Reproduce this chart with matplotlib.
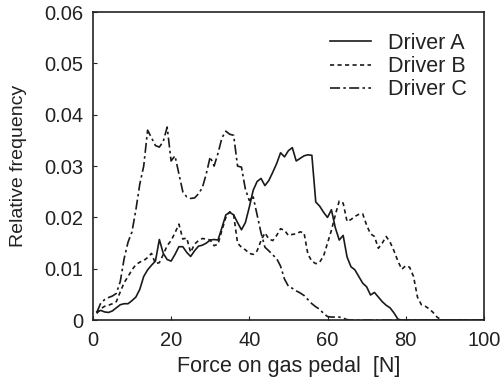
import matplotlib
matplotlib.use("Agg")
import matplotlib.pyplot as plt
import numpy as np

plt.rcParams['font.family'] = ['Liberation Sans', 'DejaVu Sans']

force = list(range(0, 101))

driver_a = [0.0, 0.0016, 0.0019, 0.0016, 0.0015, 0.0018, 0.0024, 0.0030, 0.0032, 0.0032,
            0.0038, 0.0045, 0.0060, 0.0085, 0.0098, 0.0107, 0.0115, 0.0157, 0.0130, 0.0118,
            0.0115, 0.0128, 0.0143, 0.0143, 0.0132, 0.0124, 0.0135, 0.0144, 0.0146, 0.0150,
            0.0156, 0.0157, 0.0156, 0.0180, 0.0205, 0.0210, 0.0205, 0.0190, 0.0176, 0.0190,
            0.0220, 0.0253, 0.0270, 0.0276, 0.0262, 0.0272, 0.0288, 0.0305, 0.0326, 0.0318,
            0.0330, 0.0336, 0.0310, 0.0315, 0.0320, 0.0322, 0.0321, 0.0230, 0.0222, 0.0210,
            0.0200, 0.0215, 0.0180, 0.0156, 0.0165, 0.0123, 0.0104, 0.0098, 0.0085, 0.0072,
            0.0065, 0.0049, 0.0054, 0.0045, 0.0036, 0.0029, 0.0024, 0.0014, 0.0002] + [0.0] * 22

driver_b = [0.0, 0.0013, 0.0022, 0.0027, 0.0029, 0.0032, 0.0036, 0.0055, 0.0073, 0.0085,
            0.0098, 0.0108, 0.0113, 0.0116, 0.0122, 0.0130, 0.0110, 0.0112, 0.0128, 0.0145,
            0.0155, 0.0170, 0.0187, 0.0158, 0.0160, 0.0132, 0.0148, 0.0155, 0.0159, 0.0158,
            0.0156, 0.0145, 0.0148, 0.0175, 0.0200, 0.0211, 0.0205, 0.0150, 0.0142, 0.0137,
            0.0130, 0.0128, 0.0135, 0.0155, 0.0170, 0.0158, 0.0155, 0.0165, 0.0178, 0.0175,
            0.0165, 0.0167, 0.0168, 0.0172, 0.0170, 0.0128, 0.0115, 0.0110, 0.0113, 0.0125,
            0.0150, 0.0175, 0.0205, 0.0232, 0.0228, 0.0192, 0.0196, 0.0202, 0.0206, 0.0207,
            0.0185, 0.0168, 0.0163, 0.0140, 0.0150, 0.0163, 0.0152, 0.0135, 0.0115, 0.0099,
            0.0106, 0.0103, 0.0085, 0.0045, 0.0030, 0.0027, 0.0022, 0.0015, 0.0006, 0.0001] + [0.0] * 11

driver_c = [0.0, 0.0015, 0.0033, 0.0040, 0.0044, 0.0047, 0.0052, 0.0075, 0.0120, 0.0152,
            0.0172, 0.0215, 0.0265, 0.0300, 0.0370, 0.0355, 0.0340, 0.0337, 0.0348, 0.0376,
            0.0310, 0.0320, 0.0285, 0.0250, 0.0240, 0.0237, 0.0238, 0.0246, 0.0258, 0.0285,
            0.0318, 0.0300, 0.0325, 0.0355, 0.0368, 0.0362, 0.0360, 0.0300, 0.0298, 0.0255,
            0.0233, 0.0240, 0.0205, 0.0170, 0.0142, 0.0135, 0.0127, 0.0120, 0.0105, 0.0080,
            0.0066, 0.0062, 0.0057, 0.0053, 0.0048, 0.0040, 0.0032, 0.0026, 0.0021, 0.0013,
            0.0007, 0.0006, 0.0006, 0.0006, 0.0004, 0.0001] + [0.0] * 35

x_ticks = [0, 20, 40, 60, 80, 100]
y_ticks = [0, 0.01, 0.02, 0.03, 0.04, 0.05, 0.06]
y_tick_labels = ["0", "0.01", "0.02", "0.03", "0.04", "0.05", "0.06"]

fig = plt.figure(figsize=(5.02, 3.89), dpi=100)
ax = fig.add_axes([0.185, 0.177, 0.779, 0.792])

col = '#1a1a1a'
ax.plot(force[1:], driver_a[1:], color=col, lw=1.2, linestyle='-', label='Driver A')
ax.plot(force[1:], driver_b[1:], color=col, lw=1.2, linestyle=(0, (2.5, 2)), label='Driver B')
ax.plot(force[1:], driver_c[1:], color=col, lw=1.2, linestyle=(0, (6, 2, 1.5, 2)), label='Driver C')

ax.set_xlim(0, 100)
ax.set_ylim(0, 0.06)
ax.set_xticks(x_ticks)
ax.set_yticks(y_ticks)
ax.set_yticklabels(y_tick_labels)
ax.tick_params(direction='in', length=3, labelsize=14.5, colors='#222222', top=False, right=False)
ax.tick_params(axis='y', pad=7)
ax.tick_params(axis='x', pad=8)
for s in ax.spines.values():
    s.set_linewidth(1.2)
    s.set_color('#222222')

ax.set_xlabel('Force on gas pedal  [N]', fontsize=15.5, color='#222222', labelpad=4)
ax.set_ylabel('Relative frequency', fontsize=14, color='#222222', labelpad=12)

leg = ax.legend(loc='upper right', bbox_to_anchor=(0.99, 0.974), frameon=False, fontsize=15.5,
                handlelength=1.9, labelspacing=0.1, borderaxespad=0.3, handletextpad=0.8,
                borderpad=0.3)
for t in leg.get_texts():
    t.set_color('#222222')

fig.savefig('out.png', dpi=100)
